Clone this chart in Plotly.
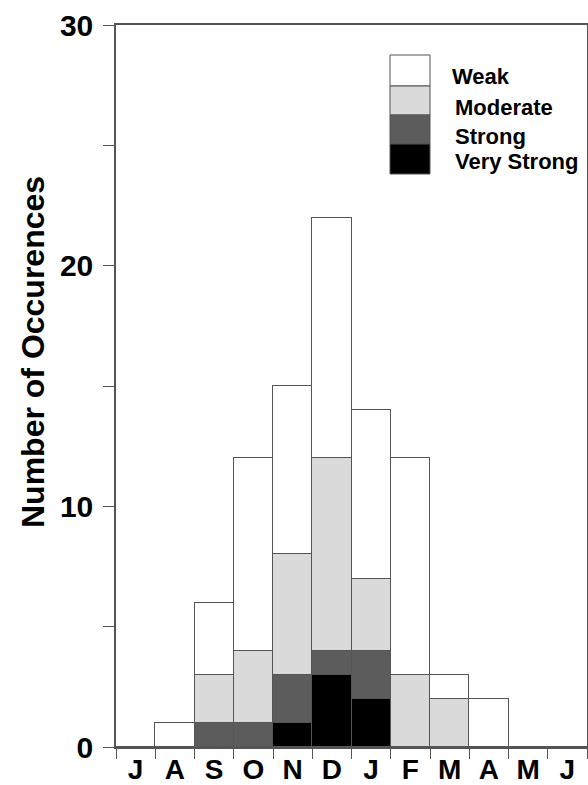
import plotly.graph_objects as go

months = ["Jul", "Aug", "Sep", "Oct", "Nov", "Dec", "Jan", "Feb", "Mar", "Apr", "May", "Jun"]
month_labels = ["J", "A", "S", "O", "N", "D", "J", "F", "M", "A", "M", "J"]
very_strong = [0, 0, 0, 0, 1, 3, 2, 0, 0, 0, 0, 0]
strong = [0, 0, 1, 1, 2, 1, 2, 0, 0, 0, 0, 0]
moderate = [0, 0, 2, 3, 5, 8, 3, 3, 2, 0, 0, 0]
weak = [0, 1, 3, 8, 7, 10, 7, 9, 1, 2, 0, 0]

series = [
    ("Very Strong", very_strong, "#000000"),
    ("Strong", strong, "#5c5c5c"),
    ("Moderate", moderate, "#dadada"),
    ("Weak", weak, "#ffffff"),
]

FONT = "Liberation Sans, Arial, Helvetica, sans-serif"
LINE = "#555555"

fig = go.Figure()
for name, vals, color in series:
    fig.add_trace(go.Bar(
        x=months, y=vals, name=name,
        marker=dict(color=color, line=dict(color=LINE, width=1)),
        showlegend=False,
    ))

W, H = 588, 785
L, R, T, B = 116, 1, 25, 38
pw, ph = W - L - R, H - T - B

def px(x):
    return (x - L) / pw

def py(y):
    return (H - B - y) / ph

# legend (drawn as a column of boxes with labels)
legend_items = [("Weak", "#ffffff", 55, 86, 450, 77),
                ("Moderate", "#dadada", 86, 115, 453, 107),
                ("Strong", "#5c5c5c", 115, 144, 453, 136),
                ("Very Strong", "#000000", 144, 174, 453, 162)]
shapes = []
annotations = []
for name, color, y0, y1, tx, ty in legend_items:
    shapes.append(dict(type="rect", xref="paper", yref="paper",
                       x0=px(390), x1=px(430), y0=py(y1), y1=py(y0),
                       fillcolor=color, line=dict(color=LINE, width=1)))
    annotations.append(dict(xref="paper", yref="paper", x=px(tx), y=py(ty),
                            text=name, showarrow=False, xanchor="left", yanchor="middle",
                            font=dict(family=FONT, size=22, color="#000000", weight="bold")))

annotations.append(dict(xref="paper", yref="paper", x=px(33), y=py(352),
                        text="Number of Occurences", textangle=-90, showarrow=False,
                        xanchor="center", yanchor="middle",
                        font=dict(family=FONT, size=32, color="#000000", weight="bold")))

fig.update_layout(
    width=W, height=H,
    margin=dict(l=L, r=R, t=T, b=B, autoexpand=False),
    barmode="stack", bargap=0,
    plot_bgcolor="white", paper_bgcolor="white",
    shapes=shapes, annotations=annotations,
    template="none",
)
fig.update_xaxes(
    type="category", tickmode="array", tickvals=months, ticktext=month_labels,
    tickson="boundaries", ticks="outside", ticklen=10, tickcolor=LINE, tickwidth=1,
    ticklabelstandoff=-3,
    showline=True, linecolor=LINE, linewidth=1.5, mirror=True,
    showgrid=False, zeroline=False, automargin=False,
    tickfont=dict(family=FONT, size=28, color="#000000", weight="bold"),
    range=[-0.5, 11.5],
)
fig.update_yaxes(
    range=[0, 30], tickvals=[0, 10, 20, 30], ticks="outside", ticklen=11,
    tickcolor=LINE, tickwidth=1, ticklabelstandoff=4,
    minor=dict(tickvals=[5, 15, 25], ticks="outside", ticklen=11, tickcolor=LINE, tickwidth=1, showgrid=False),
    showline=True, linecolor=LINE, linewidth=1.5, mirror=True,
    showgrid=False, zeroline=False, automargin=False,
    tickfont=dict(family=FONT, size=30, color="#000000", weight="bold"),
)

fig.write_html("out.html", config={"displayModeBar": False},
               post_script="document.body.style.margin='0';document.body.style.overflow='hidden';")
